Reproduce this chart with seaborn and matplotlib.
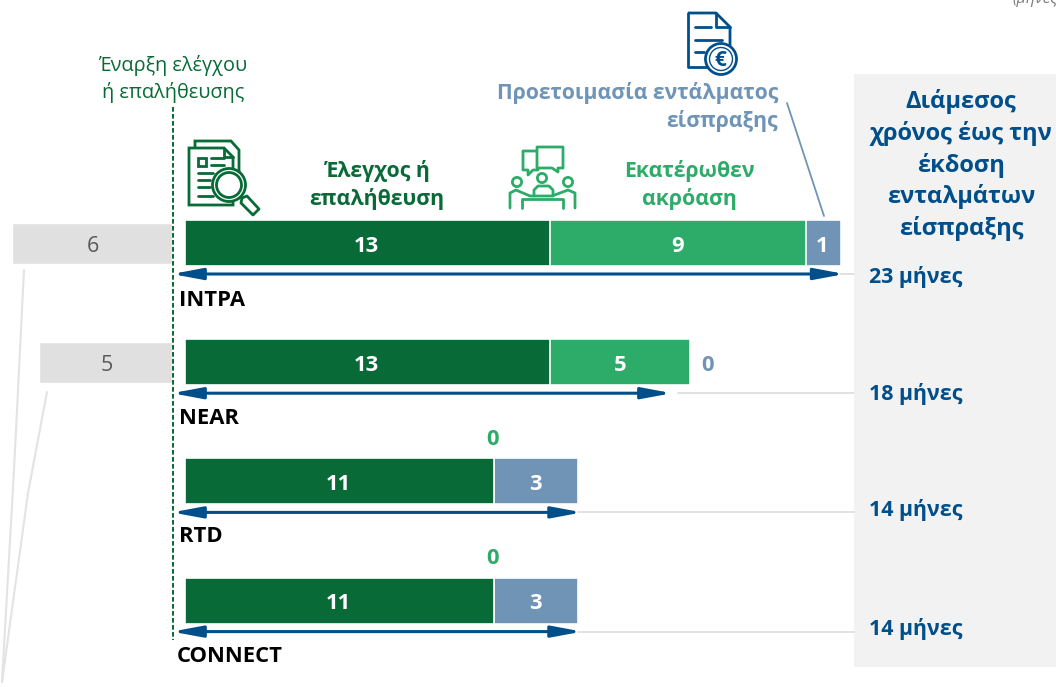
import numpy as np
import pandas as pd
import matplotlib
matplotlib.use("Agg")
import matplotlib.pyplot as plt
from matplotlib.patches import Rectangle, Circle, Polygon
import seaborn as sns

# data
programmes = ["INTPA", "NEAR", "RTD", "CONNECT"]
audit_months = [13, 13, 11, 11]
hearing_months = [9.1, 5, 0, 0]
order_months = [1.25, 0, 3, 3]
audit_labels = ["13", "13", "11", "11"]
hearing_labels = ["9", "5", "0", "0"]
order_labels = ["1", "0", "3", "3"]
start_months = [6, 5, 0, 0]
median_labels = ["23 μήνες", "18 μήνες", "14 μήνες", "14 μήνες"]
arrow_months = [23.35, 17.2, 14, 14]

DARK = "#086A36"
GREEN = "#2DAB68"
STEEL = "#6F94B6"
NAVY = "#004F8B"
GREY = "#E0E0E0"
PANEL = "#F2F2F2"

W, H = 1056, 687
PX_MONTH = 28.08
X0 = 185
ROW0 = 243
ROW_STEP = 119.2

sns.set_theme(style="white")
plt.rcParams["font.family"] = ["Open Sans", "DejaVu Sans"]

df = pd.DataFrame({"programme": programmes, "audit": audit_months,
                   "hearing": hearing_months, "order": order_months,
                   "start": start_months})
df["to_hearing"] = df["audit"] + df["hearing"]
df["to_order"] = df["to_hearing"] + df["order"]

fig = plt.figure(figsize=(W / 100, H / 100), dpi=100, facecolor="white")

# overlay in pixels, background bits first
bg = fig.add_axes([0, 0, 1, 1], zorder=0)
bg.set_xlim(0, W)
bg.set_ylim(H, 0)
bg.axis("off")
bg.add_patch(Rectangle((854, 74), 202, 593, color=PANEL, lw=0))

# main bars, stacked by drawing longest first
ax = fig.add_axes([0, 0, 1, 1], zorder=1)
ax.patch.set_alpha(0)
for col, colour in [("to_order", STEEL), ("to_hearing", GREEN), ("audit", DARK)]:
    sns.barplot(data=df, y="programme", x=col, order=programmes, color=colour,
                saturation=1, width=46 / ROW_STEP, edgecolor="white",
                linewidth=1.2, ax=ax)
ax.set_xlim(-X0 / PX_MONTH, (W - X0) / PX_MONTH)
ax.set_ylim((H - ROW0) / ROW_STEP, -ROW0 / ROW_STEP)
ax.axis("off")

# months before the audit, own scale left of the dashed line
ax2 = fig.add_axes([0, 0, 172 / W, 1], zorder=1)
ax2.patch.set_alpha(0)
df["before"] = [-v for v in start_months]
sns.barplot(data=df, y="programme", x="before", order=programmes, color=GREY,
            saturation=1, width=41 / ROW_STEP, ax=ax2)
ax2.set_xlim(-172 / 26.6, 0)
ax2.set_ylim((H - ROW0) / ROW_STEP, -ROW0 / ROW_STEP)
ax2.axis("off")

# top overlay in pixels
ov = fig.add_axes([0, 0, 1, 1], zorder=2)
ov.patch.set_alpha(0)
ov.set_xlim(0, W)
ov.set_ylim(H, 0)
ov.axis("off")


def mx(m):
    return X0 + m * PX_MONTH


def row(i):
    return ROW0 + i * ROW_STEP


# value labels
for i in range(4):
    y = row(i)
    ax_kw = dict(ha="center", va="center", color="white", fontsize=15.8, fontweight="bold")
    ov.text(mx(audit_months[i] / 2) - 1, y + 3, audit_labels[i], **ax_kw)
    if hearing_months[i] > 0:
        ov.text(mx(audit_months[i] + hearing_months[i] / 2), y + 3, hearing_labels[i], **ax_kw)
    else:
        ov.text(mx(audit_months[i]) - 1, y - 42, hearing_labels[i], ha="center", va="center",
                color=GREEN, fontsize=15.8, fontweight="bold")
    if order_months[i] > 0:
        ov.text(mx(df["to_hearing"][i] + order_months[i] / 2) - 1, y + 3, order_labels[i], **ax_kw)
    else:
        ov.text(707, y + 3, order_labels[i], ha="center", va="center",
                color=STEEL, fontsize=15.8, fontweight="bold")
    if start_months[i] > 0:
        ov.text(172 - start_months[i] * 26.6 / 2 + 1, y + 3, str(start_months[i]), ha="center",
                va="center", color="#595959", fontsize=15.5)

# arrows, guide lines and median labels
line_starts = [840, 678, 578, 578]
label_ys = [277, 394, 510, 629]
for i in range(4):
    y = row(i) + 31
    end = mx(arrow_months[i])
    ov.plot([line_starts[i], 854], [y, y], color="#DCDCDC", lw=1.2, zorder=1)
    ov.annotate("", xy=(end + 4, y), xytext=(172, y),
                arrowprops=dict(arrowstyle="<|-|>,head_length=1.5,head_width=0.28",
                                color=NAVY, lw=2.2, shrinkA=0, shrinkB=0), zorder=3)
    ov.text(869, label_ys[i], median_labels[i], ha="left", va="center", color=NAVY,
            fontsize=15.4, fontweight="bold")

for name, px, py in zip(programmes, [179, 179, 179, 177], [300, 419, 537, 657]):
    ov.text(px, py, name, ha="left", va="center", color="black", fontsize=15.8, fontweight="bold")

# dashed start line
ov.plot([172.5, 172.5], [107, 640], color=DARK, lw=1.4, ls=(0, (2.4, 1.2)))

# grey leader lines
ov.plot([24, 14, 2], [270, 470, 682], color="#E3E3E3", lw=1.5)
ov.plot([47, 28, 2], [392, 493, 682], color="#E3E3E3", lw=1.5)

# headers
ov.text(173, 79, "Έναρξη ελέγχου\nή επαλήθευσης", ha="center", va="center", color=DARK,
        fontsize=14.3, linespacing=1.41)
ov.text(377, 185, "Έλεγχος ή\nεπαλήθευση", ha="center", va="center", color=DARK,
        fontsize=15.3, fontweight="bold", linespacing=1.32)
ov.text(689, 185, "Εκατέρωθεν\nακρόαση", ha="center", va="center", color=GREEN,
        fontsize=15.3, fontweight="bold", linespacing=1.32)
ov.text(778, 107, "Προετοιμασία εντάλματος\nείσπραξης", ha="right", va="center", color=STEEL,
        fontsize=15.2, fontweight="bold", linespacing=1.32)
ov.plot([787, 824], [103, 216], color=STEEL, lw=1.3)
ov.text(961, 165, "Διάμεσος\nχρόνος έως την\nέκδοση\nενταλμάτων\nείσπραξης", ha="center",
        va="center", color=NAVY, fontsize=17, fontweight="bold", linespacing=1.35)
ov.text(1012, -2, "(μήνες)", ha="left", va="center", color="#7F7F7F", fontsize=11.5,
        style="italic", clip_on=True)

# audit icon
lw = 2
ov.add_patch(Polygon([[195, 148], [195, 141], [231, 141], [239, 150], [239, 198], [233, 198]],
                     closed=False, fill=False, ec=DARK, lw=lw))
ov.add_patch(Polygon([[189, 148], [224, 148], [233, 157], [233, 205], [189, 205]], closed=True,
                     fc="white", ec=DARK, lw=lw))
ov.plot([224, 224, 233], [148, 157, 157], color=DARK, lw=lw)
ov.add_patch(Rectangle((198, 158), 8, 8, fill=False, ec=DARK, lw=lw))
for x1, x2, yy in [(211, 224, 158), (211, 224, 165), (198, 213, 173), (198, 210, 180),
                   (198, 210, 187), (198, 213, 196)]:
    ov.plot([x1, x2], [yy, yy], color=DARK, lw=lw)
ov.add_patch(Circle((229, 185), 16.5, fc="white", ec=DARK, lw=lw))
ov.add_patch(Circle((229, 185), 12.5, fill=False, ec=DARK, lw=lw))
ov.add_patch(Polygon([[242, 198], [247, 196], [259, 209], [253, 215], [241, 203]], closed=True,
                     fc="white", ec=DARK, lw=lw, joinstyle="round"))

# hearing icon
ov.add_patch(Polygon([[523, 151], [538, 151], [538, 170], [533, 170], [528, 175], [528, 170], [523, 170]],
                     closed=True, fill=False, ec=GREEN, lw=lw, joinstyle="round"))
ov.add_patch(Polygon([[537, 147], [563, 147], [563, 168], [558, 168], [558, 172], [552, 168], [537, 168]],
                     closed=True, fc="white", ec=GREEN, lw=lw, joinstyle="round"))
for cx, cy in [(517, 182), (542, 178), (568, 182)]:
    ov.add_patch(Circle((cx, cy), 4.6, fill=False, ec=GREEN, lw=lw))
ov.plot([510, 510, 516, 530, 552, 568, 575, 575], [208, 193, 190, 196, 196, 190, 193, 208], color=GREEN, lw=lw)
ov.plot([534, 534, 538, 549, 553, 553], [196, 190, 186, 186, 190, 196], color=GREEN, lw=lw)
ov.plot([522, 522, 563, 563], [208, 199, 199, 208], color=GREEN, lw=lw)

# order icon
ov.add_patch(Polygon([[688, 13], [716, 13], [730, 27], [730, 47]], closed=False,
                     fill=False, ec=NAVY, lw=lw, joinstyle="round"))
ov.plot([707, 688, 688], [67, 67, 13], color=NAVY, lw=lw)
ov.plot([716, 716, 730], [13, 27, 27], color=NAVY, lw=lw)
for x1, x2, yy in [(695, 711, 27), (695, 722, 40), (695, 704, 52)]:
    ov.plot([x1, x2], [yy, yy], color=NAVY, lw=lw)
ov.add_patch(Circle((721, 59), 15.5, fc="white", ec=NAVY, lw=lw))
ov.add_patch(Circle((721, 59), 11.5, fill=False, ec=NAVY, lw=1))
ov.text(720, 60, "€", ha="center", va="center", color=NAVY, fontsize=15, fontweight="bold")

fig.savefig("out.png", dpi=100)
